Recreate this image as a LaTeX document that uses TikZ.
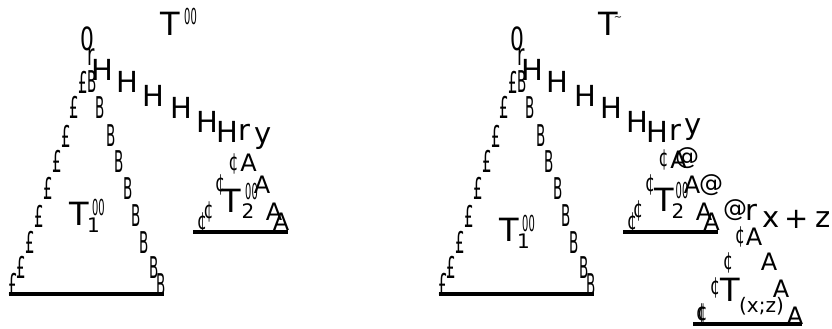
\documentclass[tikz,border=0pt]{standalone}
\usepackage{fontspec}
\setmainfont{DejaVu Sans}
\newcommand\narrow[2]{\scalebox{#1}[1]{#2}}
\begin{document}
\begin{tikzpicture}[x=1pt,y=1pt,
  g/.style={inner sep=0pt,outer sep=0pt,anchor=center},
  big/.style={g,font=\fontsize{29pt}{29pt}\selectfont},
  tee/.style={g,font=\fontsize{32pt}{32pt}\selectfont},
  aa/.style={g,font=\fontsize{24pt}{24pt}\selectfont},
  sub/.style={g,font=\fontsize{20pt}{20pt}\selectfont},
  pound/.style={g,font=\fontsize{30pt}{30pt}\selectfont},
  cent/.style={g,font=\fontsize{24pt}{24pt}\selectfont},
  dbl/.style={g,font=\fontsize{22pt}{22pt}\selectfont},
  zero/.style={g,font=\fontsize{32pt}{32pt}\selectfont},
  smallr/.style={g,font=\fontsize{30pt}{30pt}\selectfont},
  bar/.style={line width=4pt}]
\useasboundingbox (0,0) rectangle (832,-329);

% ---------- the big tree, drawn twice ----------
\foreach \ox/\pre in {0/L, 430/R}{
  \begin{scope}[xshift=\ox pt, name prefix=\pre-]
    \node[zero] (zero) at (87.5,-38.5) {\narrow{0.68}{0}};
    \node[smallr] (rr) at (91.5,-57.5) {\narrow{0.6}{r}};
    \foreach \i/\x/\y in {1/83/82, 2/74/107.5, 3/66.5/136, 4/57/161.5, 5/48.5/188.5,
                          6/39/216, 7/30.5/242.5, 8/21/267.5, 9/13.5/284.5}
      \node[pound] (p\i) at (\x,-\y) {\narrow{0.5}{£}};
    \foreach \i/\x/\y in {1/92.5/82, 2/100.5/107.5, 3/111/136, 4/119/161.5, 5/128.5/188.5,
                          6/136.5/216, 7/144.5/242.5, 8/154/267.5, 9/161/285}
      \node[pound] (b\i) at (\x,-\y) {\narrow{0.45}{B}};
    \coordinate (barA) at (9,-294);
    \coordinate (barB) at (164,-294);
    \draw[bar] (barA) -- (barB);
  \end{scope}
}

% ---------- left picture ----------
\node[tee] (Ltop) at (170.5,-24) {T};
\node[dbl] (Ltopp) at (190.5,-16) {\narrow{0.45}{00}};
\node[big] (Lh1) at (102.5,-69.5) {H};
\node[big] (Lh2) at (127,-81.5) {H};
\node[big] (Lh3) at (153,-96) {H};
\node[big] (Lh4) at (181.5,-108) {H};
\node[big] (Lh5) at (207,-122) {H};
\node[big] (Lh6) at (227,-132) {H};
\node[big] (Lr) at (244.5,-132.5) {r};
\node[big] (Ly) at (263.5,-138.5) {y};
\node[tee] (LT1) at (79.5,-214) {T};
\node[dbl] (LT1p) at (98.5,-207) {\narrow{0.45}{00}};
\node[sub] (LT1s) at (93.5,-225) {1};

\node[cent] (Lc1) at (233.5,-163.5) {\narrow{0.65}{¢}};
\node[aa] (La1) at (248.5,-163) {A};
\node[cent] (Lc2) at (220,-185) {\narrow{0.65}{¢}};
\node[dbl] (LT2p) at (251.5,-191.5) {\narrow{0.45}{00}};
\node[aa] (La2) at (262,-185) {A};
\node[tee] (LT2) at (231.5,-201) {T};
\node[sub] (LT2s) at (248,-211.5) {2};
\node[cent] (Lc3) at (208.5,-211.5) {\narrow{0.65}{¢}};
\node[aa] (La3) at (274,-212) {A};
\node[cent] (Lc4) at (202,-222.5) {\narrow{0.65}{¢}};
\node[aa] (La4) at (281,-221.5) {A};
\coordinate (Lsb1) at (193,-232);
\coordinate (Lsb2) at (288,-232);
\draw[bar] (Lsb1) -- (Lsb2);

% ---------- right picture ----------
\node[tee] (Rtop) at (608.5,-24) {T};
\node[g,font=\fontsize{10pt}{10pt}\selectfont] (Rtil) at (618,-19) {\textasciitilde};
\node[big] (Rh1) at (532.5,-69.5) {H};
\node[big] (Rh2) at (557,-81.5) {H};
\node[big] (Rh3) at (585,-96) {H};
\node[big] (Rh4) at (611.5,-108) {H};
\node[big] (Rh5) at (637,-122) {H};
\node[big] (Rh6) at (657,-132) {H};
\node[big] (Rr) at (675.5,-132.5) {r};
\node[big] (Ry) at (693.5,-130) {y};
\node[tee] (RT1) at (509.5,-230) {T};
\node[dbl] (RT1p) at (528.5,-223.5) {\narrow{0.45}{00}};
\node[sub] (RT1s) at (523.5,-241) {1};

\node[cent] (Rc1) at (663.5,-160) {\narrow{0.65}{¢}};
\node[aa] (Ra1) at (678.5,-160) {A};
\node[aa] (Rat1) at (687,-158.5) {@};
\node[cent] (Rc2) at (650,-185) {\narrow{0.65}{¢}};
\node[dbl] (RT2p) at (682,-190.5) {\narrow{0.45}{00}};
\node[aa] (Ra2) at (692,-185) {A};
\node[aa] (Rat2) at (711,-185.5) {@};
\node[tee] (RT2) at (664,-200) {T};
\node[sub] (RT2s) at (678,-211) {2};
\node[cent] (Rc3) at (638,-211) {\narrow{0.65}{¢}};
\node[aa] (Ra3) at (704,-212) {A};
\node[aa] (Rat3) at (735,-210) {@};
\node[big] (Rr2) at (751,-212) {r};
\node[big] (Rx) at (771.5,-219.5) {x};
\node[big] (Rplus) at (796.5,-219.5) {+};
\node[big] (Rz) at (823.5,-219.5) {z};
\node[cent] (Rc4) at (632,-222.5) {\narrow{0.65}{¢}};
\node[aa] (Ra4) at (711.5,-221.5) {A};
\coordinate (Rsb1) at (623,-232);
\coordinate (Rsb2) at (718,-232);
\draw[bar] (Rsb1) -- (Rsb2);

\node[cent] (Rd1) at (740,-236.5) {\narrow{0.65}{¢}};
\node[aa] (Re1) at (754,-236.5) {A};
\node[cent] (Rd2) at (728,-262.5) {\narrow{0.65}{¢}};
\node[aa] (Re2) at (769,-262) {A};
\node[cent] (Rd3) at (715,-287.5) {\narrow{0.65}{¢}};
\node[tee] (RT3) at (730.5,-290) {T};
\node[sub] (RT3s) at (761.5,-306) {(x;z)};
\node[aa] (Re3) at (781,-289) {A};
\node[cent] (Rd4) at (701,-314) {\narrow{0.65}{¢}};
\node[cent] (Rd4b) at (702.5,-314) {\narrow{0.65}{¢}};
\node[aa] (Re4) at (795,-316) {A};
\coordinate (Rtb1) at (693,-324);
\coordinate (Rtb2) at (802,-324);
\draw[bar] (Rtb1) -- (Rtb2);
\end{tikzpicture}
\end{document}
